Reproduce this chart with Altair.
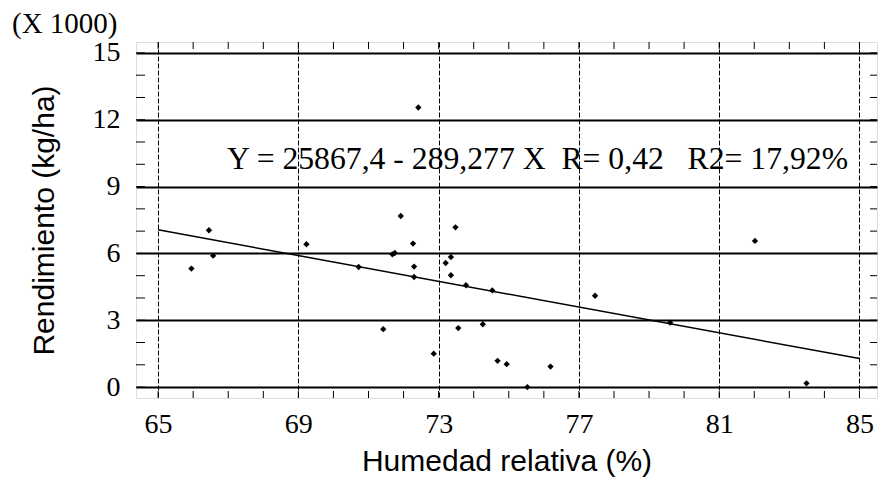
import altair as alt
import pandas as pd

# data (yield in thousands of kg/ha)
humedad = [65.95, 66.45, 66.57, 69.23, 70.72, 71.42, 71.68, 71.75, 71.92, 72.27,
           72.30, 72.30, 72.42, 72.86, 73.20, 73.35, 73.35, 73.48, 73.56, 73.78,
           74.26, 74.53, 74.68, 74.94, 75.53, 76.19, 77.46, 79.60, 82.02, 83.49]
rendimiento = [5.32, 7.04, 5.90, 6.41, 5.39, 2.60, 5.96, 6.02, 7.68, 6.44,
               5.41, 4.94, 12.55, 1.50, 5.57, 5.84, 5.02, 7.17, 2.65, 4.57,
               2.82, 4.34, 1.18, 1.03, 0.00, 0.92, 4.10, 2.89, 6.56, 0.17]
fit_x = [65, 85]
fit_y = [7.06, 1.28]
x_ticks = [65, 69, 73, 77, 81, 85]
y_ticks = [0, 3, 6, 9, 12, 15]
x_minor = list(range(65, 86))
y_minor = list(range(0, 16))
equation = "Y = 25867,4 - 289,277 X\u00a0\u00a0R= 0,42\u00a0\u00a0\u00a0R2= 17,92%"
multiplier = "(X 1000)"

W, H = 741, 356
xdom = [64.37, 85.5]
ydom = [-0.49, 15.49]

pts = pd.DataFrame({"h": humedad, "r": rendimiento})
fit = pd.DataFrame({"h": fit_x, "r": fit_y})
xm = pd.DataFrame({"h": x_minor})
ym = pd.DataFrame({"r": y_minor})

xs = alt.Scale(domain=xdom, nice=False, zero=False)
ys = alt.Scale(domain=ydom, nice=False, zero=False)

xaxis = alt.Axis(values=x_ticks, grid=True, gridDash=[5, 2], gridColor="black",
                 gridWidth=1, gridOpacity=1, ticks=False, domain=False,
                 labelFont="Liberation Serif", labelFontSize=28, labelColor="black",
                 labelPadding=12, labelFlush=False, labelOverlap=False,
                 title="Humedad relativa (%)", titleFont="Liberation Sans",
                 titleFontSize=30, titleFontWeight="normal", titleColor="black",
                 titlePadding=8)
yaxis = alt.Axis(values=y_ticks, grid=True, gridColor="black", gridWidth=1.8,
                 gridOpacity=1, ticks=False, domain=False,
                 labelFont="Liberation Serif", labelFontSize=28, labelColor="black",
                 labelPadding=16, labelFlush=False, labelOverlap=False,
                 title="Rendimiento (kg/ha)", titleFont="Liberation Sans",
                 titleFontSize=30, titleFontWeight="normal", titleColor="black",
                 titlePadding=33)

base_pts = alt.Chart(pts).mark_point(shape="diamond", filled=True, color="black",
                                      size=40, opacity=1).encode(
    x=alt.X("h:Q", scale=xs, axis=xaxis),
    y=alt.Y("r:Q", scale=ys, axis=yaxis),
)

line = alt.Chart(fit).mark_line(color="black", strokeWidth=1.5).encode(
    x=alt.X("h:Q", scale=xs), y=alt.Y("r:Q", scale=ys))

tick_len = 7
xt_bottom = alt.Chart(xm).mark_rule(color="black", strokeWidth=1).encode(
    x=alt.X("h:Q", scale=xs), y=alt.value(H), y2=alt.value(H - tick_len))
xt_top = alt.Chart(xm).mark_rule(color="black", strokeWidth=1).encode(
    x=alt.X("h:Q", scale=xs), y=alt.value(0), y2=alt.value(tick_len))
yt_left = alt.Chart(ym).mark_rule(color="black", strokeWidth=1).encode(
    y=alt.Y("r:Q", scale=ys), x=alt.value(0), x2=alt.value(tick_len + 2))
yt_right = alt.Chart(ym).mark_rule(color="black", strokeWidth=1).encode(
    y=alt.Y("r:Q", scale=ys), x=alt.value(W), x2=alt.value(W - tick_len))

eq = alt.Chart(pd.DataFrame({"t": [equation]})).mark_text(
    font="Liberation Serif", fontSize=31.7, align="left", baseline="alphabetic",
    color="black").encode(text="t:N", x=alt.value(91), y=alt.value(127))

mult = alt.Chart(pd.DataFrame({"t": [multiplier]})).mark_text(
    font="Liberation Serif", fontSize=29, align="left", baseline="alphabetic",
    color="black").encode(text="t:N", x=alt.value(-124), y=alt.value(-9))

chart = alt.layer(xt_bottom, xt_top, yt_left, yt_right, line, base_pts, eq, mult).properties(
    width=W, height=H,
    autosize=alt.AutoSizeParams(type="none"),
    padding={"left": 136, "top": 42, "right": 2, "bottom": 86},
).configure_view(stroke="black", strokeWidth=1.5).configure(background="white")

chart.save("out.html", embed_options={"renderer": "svg", "actions": False})
